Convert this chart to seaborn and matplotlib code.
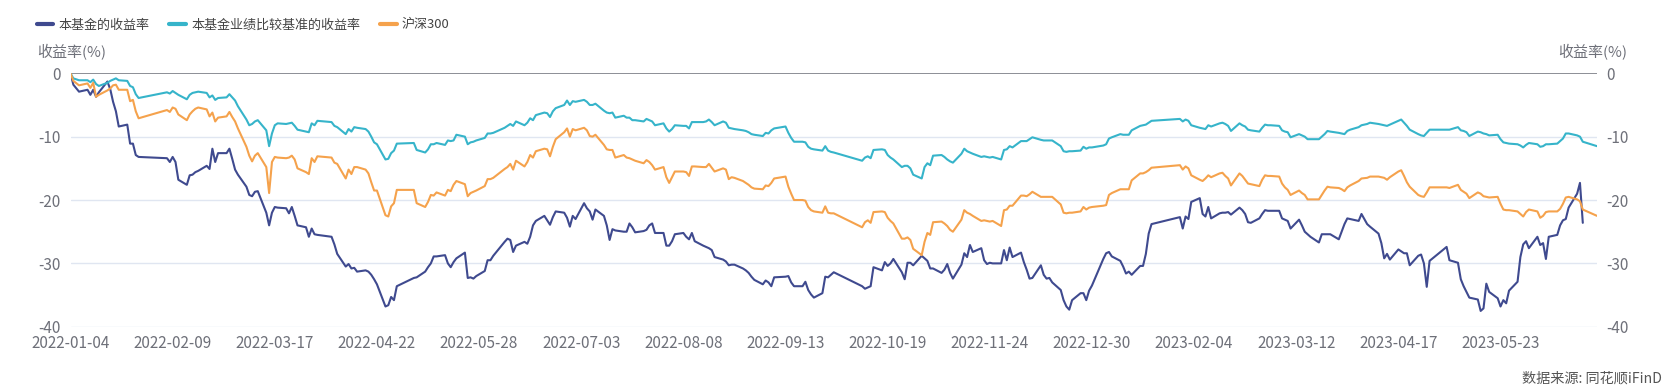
import numpy as np
import pandas as pd
import matplotlib
matplotlib.use('Agg')
import matplotlib.pyplot as plt
import seaborn as sns

# trading days shown on the chart, by month
trade_days = {
    '2022-01': [4, 5, 7, 10, 11, 12, 13, 14, 17, 18, 19, 20, 21, 24, 25, 26, 27, 28],
    '2022-02': [7, 8, 9, 10, 11, 14, 15, 16, 17, 18, 21, 22, 23, 24, 25, 28],
    '2022-03': [1, 2, 3, 4, 7, 8, 9, 10, 11, 14, 15, 16, 17, 18, 21, 22, 23, 24, 25, 28, 29, 30, 31],
    '2022-04': [1, 6, 7, 8, 11, 12, 13, 14, 15, 18, 19, 20, 21, 22, 25, 26, 27, 28, 29],
    '2022-05': [5, 6, 9, 10, 11, 12, 13, 16, 17, 18, 19, 20, 23, 24, 25, 26, 27, 30, 31],
    '2022-06': [1, 2, 6, 7, 8, 9, 10, 13, 14, 15, 16, 17, 20, 21, 22, 23, 24, 27, 28, 29, 30],
    '2022-07': [1, 4, 5, 6, 7, 8, 11, 12, 13, 14, 15, 18, 19, 20, 21, 22, 25, 26, 27, 28, 29],
    '2022-08': [1, 2, 3, 4, 5, 8, 9, 10, 11, 12, 15, 16, 17, 18, 19, 22, 23, 24, 25, 26, 29, 30, 31],
    '2022-09': [1, 2, 5, 6, 7, 8, 9, 13, 14, 15, 16, 19, 20, 21, 22, 23, 26, 27, 28, 29, 30],
    '2022-10': [10, 11, 12, 13, 14, 17, 18, 19, 20, 21, 24, 25, 26, 27, 28, 31],
    '2022-11': [1, 2, 3, 4, 7, 8, 9, 10, 11, 14, 15, 16, 17, 18, 21, 22, 23, 24, 25, 28, 29, 30],
    '2022-12': [1, 2, 5, 6, 7, 8, 9, 12, 13, 14, 15, 16, 19, 20, 21, 22, 23, 26, 27, 28, 29, 30],
    '2023-01': [3, 4, 5, 6, 9, 10, 11, 12, 13, 16, 17, 18, 19, 20, 30, 31],
    '2023-02': [1, 2, 3, 6, 7, 8, 9, 10, 13, 14, 15, 16, 17, 20, 21, 22, 23, 24, 27, 28],
    '2023-03': [1, 2, 3, 6, 7, 8, 9, 10, 13, 14, 15, 16, 17, 20, 21, 22, 23, 24, 27, 28, 29, 30, 31],
    '2023-04': [3, 4, 6, 7, 10, 11, 12, 13, 14, 17, 18, 19, 20, 21, 24, 25, 26, 27, 28],
    '2023-05': [4, 5, 8, 9, 10, 11, 12, 15, 16, 17, 18, 19, 22, 23, 24, 25, 26, 29, 30, 31],
    '2023-06': [1, 2, 5, 6, 7, 8, 9, 12, 13, 14, 15, 16, 19, 20, 21, 26],
}
dates = [f'{m}-{d:02d}' for m, days in trade_days.items() for d in days]

# 本基金的收益率 (%)
fund = [
    0, -1.8, -2.9, -2.6, -3.4, -2.6, -3.7, -3.0, -1.3, -2.5, -4.5, -6.0, -8.4, -8.1, -11.1, -11.1, -12.9, -13.2,
    -13.4, -14.0, -13.2, -14.0, -16.8, -17.6, -16.1, -16.0, -15.6, -15.4, -14.6, -15.1, -11.9, -14.0, -12.6, -12.6,
    -11.9, -13.5, -15.2, -16.0, -17.9, -19.2, -19.4, -18.7, -18.6, -22.0, -24.0, -22.0, -21.1, -21.2, -21.3, -22.1, -21.1, -22.5, -24.0, -24.3, -25.8, -24.5, -25.4,
    -25.5, -25.8, -27.0, -28.5, -30.5, -30.1, -30.8, -30.7, -31.3, -31.1, -31.3, -31.8, -32.5, -33.3, -36.8, -36.6, -35.3, -35.8, -33.6,
    -32.3, -32.2, -31.3, -30.6, -30.0, -28.9, -28.9, -28.7, -30.0, -30.6, -29.8, -29.2, -28.3, -32.3, -32.2, -32.4, -32.0, -31.2, -29.5,
    -29.5, -28.8, -26.6, -26.1, -26.3, -28.2, -27.2, -26.6, -26.9, -25.8, -24.0, -23.3, -22.5, -23.2, -23.9, -22.7, -21.8, -22.0, -22.8, -24.2, -22.5,
    -23.0, -20.5, -21.3, -21.8, -23.1, -21.5, -22.5, -24.0, -26.3, -24.6, -24.8, -25.0, -25.0, -23.7, -24.3, -25.1, -24.9, -24.7, -24.0, -23.7, -25.2,
    -25.2, -27.2, -27.2, -26.5, -25.4, -25.2, -25.8, -26.2, -25.2, -26.5, -27.2, -27.4, -27.6, -27.9, -29.0, -29.4, -29.7, -30.3, -30.2, -30.2, -30.8, -31.1, -31.5,
    -32.1, -32.6, -33.3, -32.7, -33.0, -33.6, -32.2, -32.1, -32.0, -33.0, -33.6, -33.6, -32.9, -34.2, -34.9, -35.4, -34.7, -32.1, -32.2, -31.8, -31.4,
    -33.6, -34.0, -33.8, -33.6, -30.6, -31.1, -29.8, -30.4, -30.0, -29.3, -31.4, -32.5, -29.9, -29.9, -30.3, -28.8,
    -29.2, -29.6, -30.8, -30.8, -31.5, -31.0, -30.1, -31.5, -32.4, -30.2, -28.4, -29.0, -27.1, -28.2, -27.6, -29.5, -30.1, -29.9, -30.0, -30.0, -27.9, -29.5,
    -27.5, -29.0, -28.3, -29.8, -31.0, -32.4, -32.3, -30.3, -31.8, -32.4, -32.3, -33.0, -34.2, -35.8, -36.8, -37.3, -35.8, -34.7, -34.7, -35.8, -34.3, -33.5,
    -29.3, -28.4, -28.2, -28.9, -29.6, -30.5, -31.6, -31.3, -31.8, -30.4, -30.4, -28.5, -25.3, -23.8, -22.7, -24.5,
    -22.6, -23.0, -20.3, -19.7, -22.2, -22.6, -21.1, -22.9, -22.1, -22.0, -22.0, -21.9, -22.3, -21.2, -21.6, -22.2, -23.5, -23.6, -22.9, -22.2,
    -21.6, -21.7, -21.7, -21.7, -22.9, -23.1, -23.3, -24.5, -23.1, -24.0, -25.0, -25.4, -25.8, -26.7, -25.4, -25.4, -25.4, -25.4, -26.2, -25.0, -23.8, -22.9, -23.0,
    -23.3, -22.2, -23.8, -24.2, -25.3, -26.8, -29.2, -28.5, -29.4, -27.8, -28.1, -28.4, -28.4, -30.3, -28.8, -28.6, -30.0, -33.7, -29.6,
    -27.4, -29.5, -29.9, -32.5, -33.6, -34.5, -35.4, -35.7, -37.5, -37.1, -33.2, -34.5, -35.5, -36.8, -35.8, -36.3, -34.3, -32.9, -29.0, -27.0,
    -26.5, -27.6, -25.8, -27.1, -26.8, -29.3, -25.8, -25.5, -24.0, -23.2, -23.0, -21.2, -19.0, -17.3, -23.6, np.nan,
]

# 本基金业绩比较基准的收益率 (%)
bench = [
    0, -0.8, -1.1, -1.1, -1.4, -1.0, -1.7, -2.0, -1.5, -1.2, -1.0, -0.8, -1.1, -1.2, -2.0, -2.2, -3.3, -3.9,
    -3.0, -3.2, -2.8, -3.1, -3.4, -4.1, -3.4, -3.1, -3.0, -2.9, -3.1, -3.8, -3.5, -4.2, -3.9, -3.8,
    -3.3, -3.8, -4.3, -5.2, -7.3, -8.2, -8.0, -7.6, -7.4, -9.0, -11.5, -9.5, -8.2, -7.9, -8.0, -7.9, -7.8, -8.3, -8.9, -9.2, -9.3, -7.9, -8.2,
    -7.5, -7.7, -8.3, -8.5, -9.6, -8.8, -9.2, -8.5, -8.6, -8.8, -9.2, -10.0, -10.9, -11.2, -13.6, -13.5, -12.6, -12.2, -11.1,
    -11.0, -12.1, -12.5, -12.0, -11.2, -11.2, -11.0, -11.3, -10.6, -10.7, -10.6, -9.7, -10.0, -11.2, -10.9, -10.8, -10.6, -10.2, -9.5,
    -9.5, -9.4, -8.6, -8.3, -8.0, -8.3, -7.6, -8.2, -7.8, -7.1, -7.4, -6.6, -6.2, -6.3, -6.9, -6.0, -5.5, -5.0, -4.3, -5.0, -4.4,
    -4.5, -4.2, -4.5, -5.0, -5.0, -4.8, -5.9, -6.2, -6.3, -6.2, -7.0, -6.7, -7.0, -7.0, -7.4, -7.4, -7.6, -7.2, -7.4, -7.6, -8.2,
    -7.9, -8.7, -9.2, -8.8, -8.2, -8.3, -8.3, -8.7, -7.7, -7.7, -7.7, -7.6, -7.3, -7.7, -8.2, -7.6, -7.8, -8.6, -8.7, -8.8, -9.0, -9.1, -9.3,
    -9.6, -9.7, -9.9, -9.4, -9.5, -9.0, -8.7, -8.4, -9.4, -10.2, -10.8, -10.8, -10.9, -11.6, -11.9, -12.0, -12.2, -11.5, -12.2, -12.4, -12.5,
    -13.8, -13.3, -13.1, -13.4, -12.1, -12.0, -12.1, -12.9, -13.3, -13.6, -14.8, -14.6, -14.6, -15.0, -16.0, -16.6,
    -14.8, -14.2, -14.5, -13.0, -12.9, -13.2, -13.6, -13.9, -14.1, -12.7, -11.9, -12.3, -12.5, -12.7, -13.2, -13.1, -13.2, -13.3, -13.2, -13.6, -12.1, -12.0,
    -11.5, -11.7, -10.7, -10.7, -10.7, -10.4, -10.1, -10.5, -10.6, -10.6, -10.6, -10.6, -11.5, -12.3, -12.4, -12.3, -12.3, -12.2, -11.6, -11.9, -11.7, -11.7,
    -11.4, -11.2, -10.3, -10.1, -9.6, -9.7, -9.7, -9.7, -9.0, -8.3, -8.2, -8.1, -7.8, -7.5, -7.2, -7.6,
    -7.3, -7.5, -8.2, -8.6, -8.7, -8.8, -8.2, -8.4, -7.9, -7.8, -8.0, -8.3, -9.1, -7.9, -8.2, -8.4, -8.9, -9.0, -9.2, -8.6,
    -8.1, -8.2, -8.2, -8.3, -9.0, -9.2, -9.3, -10.1, -9.6, -9.8, -10.0, -10.4, -10.4, -10.4, -10.0, -9.6, -9.1, -9.2, -9.4, -9.5, -9.6, -9.1, -8.9,
    -8.5, -8.2, -8.0, -7.8, -8.0, -8.1, -8.2, -8.3, -8.1, -7.5, -7.3, -7.8, -8.3, -8.9, -9.6, -9.8, -9.9, -9.4, -8.9,
    -8.9, -8.9, -8.5, -9.0, -9.1, -9.3, -9.9, -9.2, -9.3, -9.5, -9.6, -9.8, -9.7, -10.4, -10.9, -11.0, -11.1, -11.2, -11.4, -11.7,
    -11.3, -11.0, -11.2, -11.6, -11.5, -11.2, -11.2, -11.1, -10.7, -10.3, -9.5, -9.5, -9.8, -10.0, -10.8, -11.5,
]

# 沪深300 (%)
hs300 = [
    0, -1.2, -1.9, -1.6, -2.3, -1.5, -3.7, -3.4, -2.7, -2.4, -1.9, -1.8, -2.6, -2.6, -4.4, -4.2, -6.0, -7.1,
    -5.8, -6.1, -5.4, -5.6, -6.5, -7.4, -6.5, -6.0, -5.6, -5.4, -5.7, -6.8, -6.2, -7.6, -7.0, -6.8,
    -6.1, -6.9, -7.6, -8.7, -11.6, -13.0, -13.9, -13.0, -12.6, -14.8, -18.9, -14.0, -13.2, -13.3, -13.4, -13.3, -13.0, -13.6, -15.0, -15.6, -15.9, -13.4, -14.0,
    -13.1, -13.3, -14.1, -14.3, -16.6, -15.2, -15.9, -14.8, -14.8, -15.2, -15.8, -17.2, -18.5, -18.5, -22.4, -22.6, -21.0, -20.5, -18.4,
    -18.4, -20.5, -21.1, -20.3, -19.2, -19.3, -18.8, -19.3, -18.4, -18.6, -17.6, -17.0, -17.5, -19.4, -18.9, -18.7, -18.5, -17.8, -16.7,
    -16.7, -16.5, -15.1, -14.8, -14.3, -15.2, -13.8, -14.7, -14.0, -12.9, -13.3, -12.3, -11.9, -12.0, -13.1, -11.6, -10.4, -9.3, -8.7, -10.0, -8.8,
    -9.0, -8.6, -9.0, -9.9, -10.0, -9.7, -11.3, -12.0, -12.1, -12.1, -13.3, -12.9, -13.3, -13.4, -13.6, -13.8, -14.2, -13.7, -14.0, -14.5, -15.2,
    -14.8, -16.4, -17.3, -16.4, -15.5, -15.5, -15.6, -16.2, -14.7, -14.7, -14.8, -14.8, -14.3, -14.9, -15.5, -15.0, -15.2, -16.7, -16.4, -16.5, -17.0, -17.3, -17.6,
    -18.0, -18.2, -18.3, -17.7, -17.8, -17.3, -16.6, -16.3, -17.9, -19.0, -20.0, -20.0, -20.1, -21.1, -21.6, -21.8, -22.0, -21.0, -22.0, -22.1, -22.1,
    -24.3, -23.5, -23.2, -23.6, -21.9, -21.8, -21.9, -22.8, -23.3, -23.7, -26.1, -26.1, -25.9, -26.3, -27.7, -28.7,
    -26.6, -25.2, -25.5, -23.5, -23.4, -23.7, -24.1, -24.7, -25.0, -23.1, -21.6, -22.0, -22.2, -22.5, -23.3, -23.2, -23.3, -23.4, -23.3, -24.1, -21.6, -21.5,
    -20.9, -20.9, -19.3, -19.3, -19.4, -19.1, -18.7, -19.5, -19.5, -19.5, -19.5, -19.5, -20.7, -22.0, -22.1, -22.0, -22.0, -21.8, -21.1, -21.5, -21.2, -21.1,
    -20.9, -20.8, -19.2, -18.9, -18.3, -18.3, -18.3, -18.3, -16.9, -15.8, -15.8, -15.6, -15.3, -14.9, -14.5, -15.2,
    -14.7, -15.0, -16.1, -16.8, -17.0, -16.6, -16.1, -16.4, -15.8, -15.7, -16.2, -16.6, -17.7, -15.8, -16.2, -16.8, -17.4, -17.5, -17.8, -16.8,
    -16.1, -16.2, -16.2, -16.3, -17.4, -18.0, -18.4, -19.2, -18.5, -18.9, -19.2, -19.9, -19.9, -19.9, -19.2, -18.5, -17.9, -18.0, -18.1, -18.3, -18.6, -18.0, -17.7,
    -17.0, -16.6, -16.5, -16.3, -16.3, -16.4, -16.5, -16.8, -16.4, -15.5, -15.3, -16.2, -17.2, -17.9, -19.2, -19.4, -19.5, -18.8, -18.0,
    -18.0, -18.1, -17.6, -18.4, -18.7, -19.0, -19.7, -18.8, -19.0, -19.4, -19.5, -19.6, -19.5, -20.6, -21.5, -21.6, -21.6, -21.8, -22.2, -22.6,
    -21.9, -21.5, -21.8, -22.8, -22.5, -21.9, -21.8, -21.8, -21.4, -20.6, -19.6, -19.5, -19.9, -20.2, -21.5, -22.5,
]

series_names = ['本基金的收益率', '本基金业绩比较基准的收益率', '沪深300']
colors = ['#3F4A8F', '#36B4CA', '#F5A24C']
y_ticks = [0, -10, -20, -30, -40]
x_ticks = ['2022-01-04', '2022-02-09', '2022-03-17', '2022-04-22', '2022-05-28',
           '2022-07-03', '2022-08-08', '2022-09-13', '2022-10-19', '2022-11-24',
           '2022-12-30', '2023-02-04', '2023-03-12', '2023-04-17', '2023-05-23']

assert len(dates) == len(fund) == len(bench) == len(hs300)

df = pd.DataFrame({'date': pd.to_datetime(dates),
                   series_names[0]: fund,
                   series_names[1]: bench,
                   series_names[2]: hs300})
long = df.melt(id_vars='date', var_name='series', value_name='value').dropna()

sns.set_style('white')
plt.rcParams['font.family'] = ['Noto Sans CJK SC', 'DejaVu Sans']
plt.rcParams['axes.unicode_minus'] = False

axis_grey = '#6E7079'
fig = plt.figure(figsize=(16.67, 3.89), dpi=100)
ax = fig.add_axes([0.0423, 0.160, 0.9157, 0.6516])

sns.lineplot(data=long, x='date', y='value', hue='series', hue_order=series_names,
             palette=colors, linewidth=1.5, estimator=None, ax=ax)

ax.set_ylim(-40, 0)
ax.set_yticks(y_ticks)
ax.set_xlim(pd.Timestamp('2022-01-04'), pd.Timestamp('2023-06-26'))
ax.set_xticks(pd.to_datetime(x_ticks))
ax.set_xticklabels(x_ticks)
ax.set_xlabel('')
ax.set_ylabel('')
for y in y_ticks[1:]:
    ax.axhline(y, color='#E0E6F1', lw=1, zorder=0)
ax.axhline(0, color=axis_grey, lw=1.1, zorder=1)
for s in ax.spines.values():
    s.set_visible(False)
ax.tick_params(axis='both', length=0, colors=axis_grey, labelsize=11)
ax.tick_params(axis='x', pad=6)
ax.tick_params(axis='y', pad=7)

ax2 = ax.twinx()
ax2.set_ylim(ax.get_ylim())
ax2.set_yticks(y_ticks)
for s in ax2.spines.values():
    s.set_visible(False)
ax2.tick_params(axis='y', length=0, colors=axis_grey, labelsize=11, pad=7)

handles, labels = ax.get_legend_handles_labels()
ax.get_legend().remove()
leg = fig.legend(handles, labels, loc='center left', bbox_to_anchor=(0.022, 0.936),
                 ncol=3, frameon=False, fontsize=9.4, handlelength=1.25,
                 handletextpad=0.4, columnspacing=1.55, borderpad=0, borderaxespad=0)
for h in leg.get_lines():
    h.set_linewidth(3)
for t in leg.get_texts():
    t.set_color('#444444')

fig.text(0.0222, 0.866, '收益率(%)', color=axis_grey, fontsize=10.8, ha='left', va='center')
fig.text(0.976, 0.866, '收益率(%)', color=axis_grey, fontsize=10.8, ha='right', va='center')
fig.text(0.997, 0.028, '数据来源: 同花顺iFinD', color='#555555', fontsize=10.2, ha='right', va='center')

fig.savefig('out.png', dpi=100)
